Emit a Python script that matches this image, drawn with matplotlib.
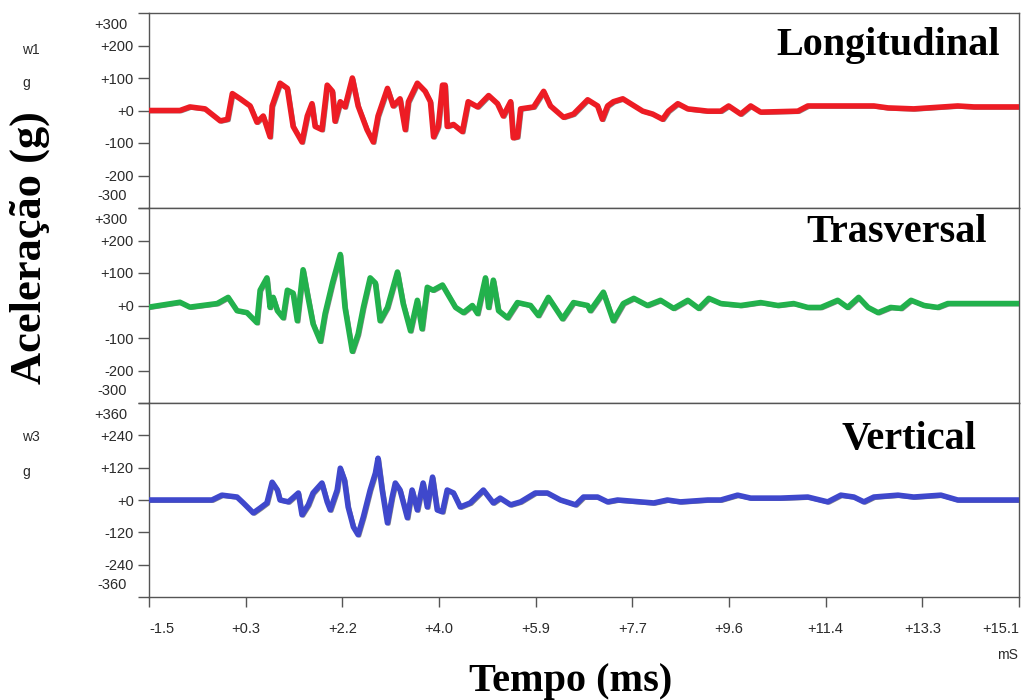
import numpy as np
import matplotlib
matplotlib.use('Agg')
import matplotlib.pyplot as plt
import matplotlib.transforms as mtransforms

# Longitudinal (w1) trace: time in ms, acceleration in g
long_t = [-1.5, -0.91, -0.72, -0.43, -0.14, 0.0, 0.09, 0.24, 0.43, 0.56, 0.68, 0.81, 0.85,
          1.00, 1.14, 1.25, 1.42, 1.52, 1.61, 1.67, 1.80, 1.90, 2.00, 2.05, 2.15, 2.24, 2.38,
          2.49, 2.66, 2.78, 2.87, 3.05, 3.16, 3.29, 3.39, 3.45, 3.62, 3.77, 3.87, 3.93, 4.02,
          4.10, 4.15, 4.19, 4.31, 4.48, 4.59, 4.77, 4.98, 5.15, 5.26, 5.40, 5.45, 5.53, 5.59,
          5.84, 6.03, 6.16, 6.41, 6.60, 6.87, 7.06, 7.15, 7.25, 7.36, 7.54, 7.69, 7.92, 8.11,
          8.30, 8.41, 8.59, 8.78, 9.16, 9.41, 9.56, 9.79, 9.98, 10.17, 10.88, 11.07, 12.33,
          12.60, 13.09, 13.93, 14.24, 15.1]
long_v = [0, 0, 11, 5, -32, -27, 52, 36, 14, -36, -17, -81, 14,
          84, 68, -49, -97, -17, 21, -49, -59, 78, 59, -33, 27, 11, 100,
          14, -59, -97, -17, 68, 14, 36, -59, 27, 84, 59, 27, -81, -49,
          78, 78, -49, -43, -65, 27, 11, 46, 21, -17, 27, -84, -81, 5,
          11, 59, 14, -21, -11, 33, 14, -27, 14, 27, 36, 21, -2, -11,
          -27, -2, 21, 5, -2, -2, 14, -11, 14, -5, -2, 14, 14,
          8, 5, 14, 11, 11]

# Trasversal trace
tras_t = [-1.5, -0.91, -0.72, -0.20, 0.01, 0.18, 0.37, 0.56, 0.62, 0.75, 0.81, 0.87, 0.95,
          1.06, 1.14, 1.25, 1.33, 1.44, 1.52, 1.63, 1.77, 1.86, 2.00, 2.15, 2.24, 2.38, 2.49,
          2.59, 2.72, 2.82, 2.91, 3.05, 3.24, 3.35, 3.49, 3.62, 3.71, 3.81, 3.92, 4.10, 4.19,
          4.35, 4.50, 4.67, 4.77, 4.92, 4.98, 5.07, 5.17, 5.34, 5.53, 5.78, 5.93, 6.12, 6.39,
          6.60, 6.87, 6.92, 7.17, 7.36, 7.55, 7.75, 8.01, 8.26, 8.51, 8.78, 8.99, 9.18, 9.41,
          9.79, 10.17, 10.50, 10.80, 11.07, 11.32, 11.64, 11.83, 12.04, 12.22, 12.41, 12.65,
          12.85, 13.04, 13.29, 13.55, 13.74, 14.13, 15.1]
tras_v = [-5, 10, -5, 6, 25, -16, -22, -53, 47, 85, -6, 25, -16,
          -38, 47, 38, -47, 110, 38, -56, -110, -25, 69, 157, -6, -141, -88,
          -6, 85, 69, -47, -6, 103, 6, -78, 16, -72, 56, 47, 63, 38,
          -6, -22, 0, -25, 85, -6, 78, -16, -38, 9, 0, -31, 25, -41,
          9, 0, -16, 41, -47, 6, 22, 0, 16, -9, 16, -9, 22, 6,
          0, 9, 0, 6, -6, -6, 16, -6, 25, -6, -22, -6,
          -9, 16, 0, -6, 6, 6, 6]

# Vertical (w3) trace
vert_t = [-1.5, -0.30, -0.11, 0.18, 0.30, 0.49, 0.62, 0.75, 0.85, 0.95, 1.00, 1.16, 1.35,
          1.42, 1.54, 1.63, 1.80, 1.90, 1.96, 2.09, 2.15, 2.23, 2.30, 2.40, 2.49, 2.59, 2.72,
          2.82, 2.87, 2.95, 3.05, 3.14, 3.20, 3.29, 3.43, 3.52, 3.62, 3.73, 3.81, 3.91, 4.00,
          4.10, 4.19, 4.31, 4.44, 4.63, 4.88, 5.07, 5.20, 5.40, 5.59, 5.87, 6.10, 6.35, 6.64,
          6.79, 7.06, 7.25, 7.44, 8.13, 8.39, 8.64, 9.16, 9.41, 9.73, 9.98, 10.55, 11.07,
          11.45, 11.70, 11.95, 12.14, 12.33, 12.79, 13.09, 13.61, 13.93, 15.1]
vert_v = [0, 0, 18, 11, -11, -48, -30, -11, 66, 37, 0, -7, 26,
          -55, -18, 26, 63, -7, -37, 37, 118, 74, -26, -100, -129, -63, 37,
          100, 155, 37, -85, 11, 63, 37, -66, 37, -37, 63, -26, 85, -37,
          -44, 37, 26, -26, -11, 37, -11, 7, -18, -7, 26, 26, 0, -18,
          11, 11, -7, 0, -11, 0, -7, 0, 0, 18, 7, 7, 11,
          -7, 18, 11, -7, 11, 18, 11, 18, 0, 0]

panel_titles = ['Longitudinal', 'Trasversal', 'Vertical']
panel_colors = ['#ED1C24', '#22B14C', '#3F48CC']
panel_limits = [300, 300, 360]
panel_ticks = [[-200, -100, 0, 100, 200], [-200, -100, 0, 100, 200], [-240, -120, 0, 120, 240]]

x_min, x_max = -1.5, 15.1
x_labels = ['-1.5', '+0.3', '+2.2', '+4.0', '+5.9', '+7.7', '+9.6', '+11.4', '+13.3', '+15.1']

W, H = 1024, 700
fig = plt.figure(figsize=(W / 100, H / 100), dpi=100)
plt.rcParams['font.family'] = ['Liberation Sans', 'DejaVu Sans']

def fx(px):
    return px / W

def fy(py):
    return 1 - py / H

left, right = 149, 1019
bounds = [(13, 208), (208, 403), (403, 597)]
series = [(long_t, long_v), (tras_t, tras_v), (vert_t, vert_v)]
title_pos = [(1000, 45), (987, 233), (977, 440)]
tick_col = '#2a2a2a'
tick_fs = 10.5
serif = ['Liberation Serif', 'DejaVu Serif']

axes = []
for i, ((top, bot), (t, v)) in enumerate(zip(bounds, series)):
    ax = fig.add_axes([fx(left), fy(bot), fx(right) - fx(left), (bot - top) / H])
    lim = panel_limits[i]
    # grey original trace peeking from under the coloured one
    shadow = ax.transData + mtransforms.ScaledTranslation(1.5 / 100, -1.2 / 100, fig.dpi_scale_trans)
    ax.plot(t, v, color='#8a8a8a', lw=2.4, transform=shadow, zorder=2)
    ax.plot(t, v, color=panel_colors[i], lw=4.0, solid_joinstyle='round',
            solid_capstyle='round', zorder=3)
    ax.set_xlim(x_min, x_max)
    ax.set_ylim(-lim, lim)
    ticks = panel_ticks[i]
    ax.set_yticks(ticks)
    ax.set_yticklabels(['+' + str(k) if k >= 0 else str(k) for k in ticks])
    ax.set_yticks([-lim, lim], minor=True)
    ax.tick_params(axis='y', which='major', direction='out', length=8, width=1,
                   color='#555555', labelsize=tick_fs, labelcolor=tick_col, pad=3)
    ax.tick_params(axis='y', which='minor', direction='out', length=8, width=1, color='#555555')
    # outer limit labels sit just inside the panel edges
    ax.text(-0.025, 0.94, '+' + str(lim), transform=ax.transAxes, ha='right',
            va='center', fontsize=tick_fs, color=tick_col)
    ax.text(-0.025, 0.06, '-' + str(lim), transform=ax.transAxes, ha='right',
            va='center', fontsize=tick_fs, color=tick_col)
    for s in ax.spines.values():
        s.set_color('#555555')
        s.set_linewidth(1)
    tx, ty = title_pos[i]
    fig.text(fx(tx), fy(ty), panel_titles[i], ha='right', va='center', fontsize=29,
             fontweight='bold', family=serif)
    if i < 2:
        ax.set_xticks([])
    else:
        ax.set_xticks(np.linspace(x_min, x_max, len(x_labels)))
        ax.set_xticklabels(x_labels)
        ax.tick_params(axis='x', direction='out', length=7, width=1, color='#555555',
                       labelsize=tick_fs, labelcolor=tick_col, pad=11)
        lbls = ax.get_xticklabels()
        lbls[0].set_ha('left')
        lbls[-1].set_ha('right')
    axes.append(ax)

fig.text(fx(22), fy(50), 'w1', ha='left', va='center', fontsize=10, color=tick_col)
fig.text(fx(22), fy(83), 'g', ha='left', va='center', fontsize=10, color=tick_col)
fig.text(fx(22), fy(437), 'w3', ha='left', va='center', fontsize=10, color=tick_col)
fig.text(fx(22), fy(472), 'g', ha='left', va='center', fontsize=10, color=tick_col)
fig.text(fx(1018), fy(655), 'mS', ha='right', va='center', fontsize=10, color=tick_col)

fig.text(fx(30), fy(248), 'Aceleração (g)', rotation=90, ha='center', va='center',
         fontsize=32, fontweight='bold', family=serif)
fig.text(fx(571), fy(682), 'Tempo (ms)', ha='center', va='center',
         fontsize=29, fontweight='bold', family=serif)

fig.savefig('out.png', dpi=100)
